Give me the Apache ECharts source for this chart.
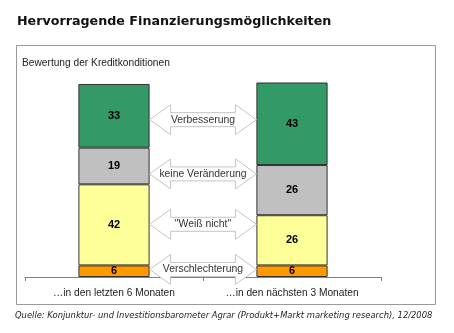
<!DOCTYPE html>
<html>
<head>
<meta charset="utf-8">
<script src="https://cdn.jsdelivr.net/npm/echarts@6/dist/echarts.min.js"></script>
<style>html,body{margin:0;padding:0;background:#fff;}#c{width:454px;height:333px;}</style>
</head>
<body>
<div id="c"></div>
<script>
var categories = ['\u2026in den letzten 6 Monaten', '\u2026in den n\u00e4chsten 3 Monaten'];
var verschlechterung = [6, 6];
var weissNicht = [42, 26];
var keineVeraenderung = [19, 26];
var verbesserung = [33, 43];
var arrowLabels = ['Verbesserung', 'keine Ver\u00e4nderung', '"Wei\u00df nicht"', 'Verschlechterung'];
var arrowLevels = [81.5, 53.4, 27.3, 3.9];

var chart = echarts.init(document.getElementById('c'));
var barLabel = { show: true, position: 'inside', color: '#000', fontWeight: 'bold', fontSize: 11, fontFamily: 'Liberation Sans, Arial, sans-serif' };
function barSeries(name, data, color) {
  return {
    name: name, type: 'bar', stack: 'total', data: data, barWidth: '40%',
    itemStyle: { color: color, borderColor: '#333', borderWidth: 1 },
    label: barLabel, z: 2
  };
}
var arrowData = arrowLevels.map(function (v, i) { return [0, v, i]; });

chart.setOption({
  animation: false,
  title: [
    { text: 'Hervorragende Finanzierungsm\u00f6glichkeiten', left: 17, top: 15, padding: 0,
      textStyle: { fontFamily: 'DejaVu Sans', fontWeight: 'bold', fontSize: 12.7, color: '#111' } },
    { text: 'Bewertung der Kreditkonditionen', left: 22, top: 58, padding: 0,
      textStyle: { fontFamily: 'Liberation Sans, Arial', fontWeight: 'normal', fontSize: 10.2, color: '#222' } },
    { text: 'Quelle: Konjunktur- und Investitionsbarometer Agrar (Produkt+Markt marketing research), 12/2008', left: 15, top: 312, padding: 0,
      textStyle: { fontFamily: 'DejaVu Sans', fontStyle: 'italic', fontWeight: 'normal', fontSize: 8.4, color: '#222' } }
  ],
  graphic: [
    { type: 'rect', shape: { x: 16.5, y: 45.5, width: 419, height: 259 },
      style: { fill: 'none', stroke: '#999', lineWidth: 1 }, z: 0 }
  ],
  grid: { left: 25, right: 73, top: 83, bottom: 56 },
  xAxis: {
    type: 'category', data: categories,
    axisLine: { lineStyle: { color: '#808080', width: 1 } },
    axisTick: { show: true, length: 4, interval: 0, lineStyle: { color: '#808080' } },
    axisLabel: { interval: 0, color: '#222', fontSize: 10.2, fontFamily: 'Liberation Sans, Arial', margin: 11 }
  },
  yAxis: { type: 'value', min: 0, max: 100.5, show: false, splitLine: { show: false } },
  series: [
    barSeries('Verschlechterung', verschlechterung, '#FF9900'),
    barSeries('Wei\u00df nicht', weissNicht, '#FFFF99'),
    barSeries('keine Ver\u00e4nderung', keineVeraenderung, '#C0C0C0'),
    barSeries('Verbesserung', verbesserung, '#339966'),
    {
      type: 'custom', data: arrowData, z: 10, clip: false, silent: true,
      renderItem: function (params, api) {
        var level = api.value(1);
        var idx = api.value(2);
        var p0 = api.coord([0, level]);
        var p1 = api.coord([1, level]);
        var band = api.size([1, 0])[0];
        var L = p0[0] + band * 0.2, R = p1[0] - band * 0.2, cy = p0[1];
        var h = 21, H = 15, s = 7;
        var pts = [[L, cy], [L + h, cy - H], [L + h, cy - s], [R - h, cy - s], [R - h, cy - H], [R, cy],
                   [R - h, cy + H], [R - h, cy + s], [L + h, cy + s], [L + h, cy + H]];
        return {
          type: 'group', children: [
            { type: 'polygon', shape: { points: pts }, style: { fill: '#fff', stroke: '#c4c4c4', lineWidth: 1 } },
            { type: 'text', x: (L + R) / 2, y: cy, style: { text: arrowLabels[idx], fill: '#333', fontSize: 10.4,
              fontFamily: 'Liberation Sans, Arial', align: 'center', verticalAlign: 'middle' } }
          ]
        };
      }
    }
  ]
});
</script>
</body>
</html>
